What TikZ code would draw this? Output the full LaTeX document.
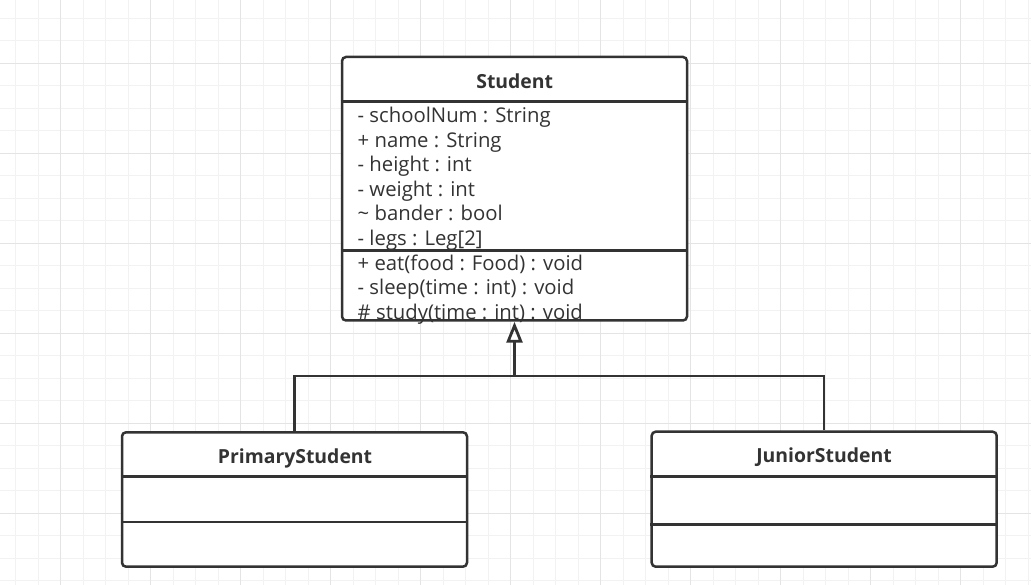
\documentclass[tikz,border=0pt]{standalone}
\usepackage{fontspec}
\setmainfont{Open Sans}
\usetikzlibrary{arrows.meta}
\definecolor{ink}{HTML}{333333}
\definecolor{gridminor}{HTML}{F2F2F2}
\definecolor{gridmajor}{HTML}{E4E4E4}
\begin{document}
\begin{tikzpicture}[x=1pt,y=-1pt,
  classbox/.style={draw=ink, line width=2.5pt, fill=white, rounded corners=4pt, minimum width=345pt, inner sep=0pt},
  titletext/.style={font=\bfseries\fontsize{19.4}{23}\selectfont, text=ink, anchor=base, inner sep=0pt},
  membertext/.style={font=\fontsize{20.3}{24}\selectfont, text=ink, anchor=mid west, inner sep=0pt},
  divider/.style={draw=ink, line width=2.5pt},
  edgeline/.style={draw=ink, line width=2.5pt},
  inherit/.style={draw=ink, line width=2.8pt, -{Triangle[open, length=21pt, width=16pt]}},
  minorgrid/.style={draw=gridminor, line width=1.2pt},
  majorgrid/.style={draw=gridmajor, line width=1.2pt}]
\useasboundingbox (0,0) rectangle (1031,585);
\fill[white] (0,0) rectangle (1031,585);
\begin{scope}
\clip (0,0) rectangle (1031,585);
\foreach \i in {0,...,45} {\draw[minorgrid] ({15.7+22.5*\i},0) -- ++(0,585);}
\foreach \j in {0,...,25} {\draw[minorgrid] (0,{18.3+22.5*\j}) -- ++(1031,0);}
\foreach \i in {0,...,11} {\draw[majorgrid] ({60.7+90*\i},0) -- ++(0,585);}
\foreach \j in {0,...,6} {\draw[majorgrid] (0,{63.3+90*\j}) -- ++(1031,0);}
\end{scope}
% class boxes
\node[classbox, minimum height=263.5pt] (student) at (514.5,188.75) {};
\node[classbox, minimum height=134.4pt] (primary) at (294.5,499.5) {};
\node[classbox, minimum height=135pt] (junior) at (824.2,499.2) {};
% compartment dividers
\draw[divider] (student.west |- 0,101.7) -- (student.east |- 0,101.7);
\draw[divider, line width=3pt] (student.west |- 0,250.7) -- (student.east |- 0,250.7);
\draw[divider] (primary.west |- 0,476.7) -- (primary.east |- 0,476.7);
\draw[divider] (primary.west |- 0,522) -- (primary.east |- 0,522);
\draw[divider] (junior.west |- 0,476.7) -- (junior.east |- 0,476.7);
\draw[divider] (junior.west |- 0,524.3) -- (junior.east |- 0,524.3);
% titles
\node[titletext] (studentT) at (514.7,88.3) {Student};
\node[titletext] (primaryT) at (295,463.3) {PrimaryStudent};
\node[titletext] (juniorT) at (824,462.7) {JuniorStudent};
% members
\node[membertext] (a1) at (357.5,120) {- schoolNum : String};
\node[membertext] (a2) at (357.5,144.5) {+ name : String};
\node[membertext] (a3) at (357.5,169) {- height : int};
\node[membertext] (a4) at (357.5,193.5) {- weight : int};
\node[membertext] (a5) at (357.5,218) {\textasciitilde{} bander : bool};
\node[membertext] (a6) at (357.5,242.5) {- legs : Leg[2]};
\node[membertext] (m1) at (357.5,267.5) {+ eat(food : Food) : void};
\node[membertext] (m2) at (357.5,292) {- sleep(time : int) : void};
\node[membertext] (m3) at (357.5,316.5) {\# study(time : int) : void};
% generalization connectors
\coordinate (junction) at (514.5,376);
\draw[edgeline] (primary.north) |- (junction);
\draw[edgeline] (junior.north) |- (junction);
\draw[inherit] (junction) -- (student.south);
\end{tikzpicture}
\end{document}
